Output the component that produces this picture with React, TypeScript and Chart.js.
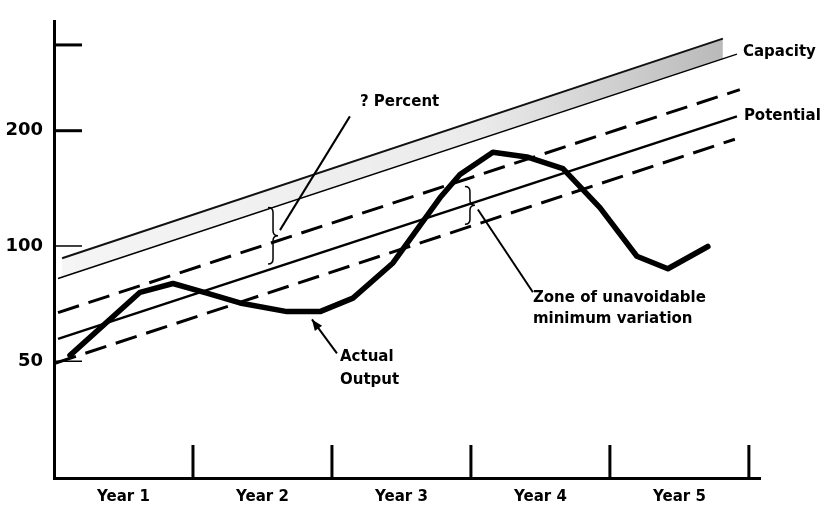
import React, { useEffect, useRef } from 'react';
import { Chart, registerables } from 'chart.js';

Chart.register(...registerables);

// ---- axis data ----
const yearLabels = ['Year 1', 'Year 2', 'Year 3', 'Year 4', 'Year 5'];
const yearLabelPositions = [0.5, 1.5, 2.5, 3.5, 4.5];
const yearTickPositions = [1, 2, 3, 4, 5];
const yTickValues = [50, 100, 200, 335];
const yTickLabels = ['50', '100', '200', ''];

// ---- series data (x in years, y in output units, log scale) ----
const capacityTopYears = [0.058, 4.813];
const capacityTopValues = [92.9, 348];
const capacityBottomYears = [0.058, 4.813];
const capacityBottomValues = [82.7, 308];
const capacityLineYears = [0.029, 4.914];
const capacityLineValues = [82.2, 317];
const zoneUpperYears = [0.029, 4.935];
const zoneUpperValues = [67.0, 256];
const potentialYears = [0.029, 4.914];
const potentialValues = [57.2, 218];
const zoneLowerYears = [0.007, 4.899];
const zoneLowerValues = [49.4, 190];
const actualYears = [0.115, 0.619, 0.856, 1.1, 1.338, 1.676, 1.914, 2.151, 2.439, 2.777, 2.921, 3.158, 3.403, 3.662, 3.928, 4.194, 4.417, 4.705];
const actualValues = [51.8, 75.7, 79.8, 75.3, 71.0, 67.4, 67.4, 73.1, 90.3, 133.6, 153.7, 175.8, 170.8, 159.2, 126, 94.0, 87.2, 99.7];

const pts = (xs: number[], ys: number[]) => xs.map((x, i) => ({ x, y: ys[i] }));

const FONT = "'DejaVu Sans', 'Noto Sans', sans-serif";

const annotationPlugin = {
  id: 'schematicAnnotations',
  afterDatasetsDraw(chart: any) {
    const { ctx, scales } = chart;
    const xs = scales.x;
    const ys = scales.y;
    const X = (v: number) => xs.getPixelForValue(v);
    const Y = (v: number) => ys.getPixelForValue(v);
    const left = chart.chartArea.left;
    const bottom = chart.chartArea.bottom;
    ctx.save();
    ctx.strokeStyle = '#000';
    ctx.fillStyle = '#000';
    ctx.lineCap = 'butt';

    // inward y ticks
    yTickValues.forEach((v) => {
      ctx.lineWidth = v >= 200 ? 3 : 1.5;
      ctx.beginPath();
      ctx.moveTo(left, Y(v));
      ctx.lineTo(left + 28, Y(v));
      ctx.stroke();
    });
    // inward x ticks
    ctx.lineWidth = 3;
    yearTickPositions.forEach((v) => {
      ctx.beginPath();
      ctx.moveTo(X(v), bottom);
      ctx.lineTo(X(v), bottom - 33);
      ctx.stroke();
    });

    const line = (x1: number, y1: number, x2: number, y2: number, w: number) => {
      ctx.lineWidth = w;
      ctx.beginPath();
      ctx.moveTo(X(x1), Y(y1));
      ctx.lineTo(X(x2), Y(y2));
      ctx.stroke();
    };
    const brace = (xv: number, topV: number, botV: number) => {
      const x = X(xv);
      const t = Y(topV);
      const b = Y(botV);
      const m = (t + b) / 2;
      const w = 5;
      ctx.lineWidth = 1.5;
      ctx.beginPath();
      ctx.moveTo(x - w, t);
      ctx.quadraticCurveTo(x, t, x, t + w);
      ctx.lineTo(x, m - w);
      ctx.quadraticCurveTo(x, m, x + w, m);
      ctx.quadraticCurveTo(x, m, x, m + w);
      ctx.lineTo(x, b - w);
      ctx.quadraticCurveTo(x, b, x - w, b);
      ctx.stroke();
    };

    // braces
    brace(1.576, 126, 89.7);
    brace(2.993, 143, 114);

    // pointer lines
    line(2.129, 218, 1.626, 110, 2);
    line(3.05, 124.5, 3.446, 75.7, 2);

    // arrow for actual output
    const hx = X(1.856), hy = Y(64.3);
    const tx = X(2.036), ty = Y(52.4);
    ctx.lineWidth = 2;
    ctx.beginPath();
    ctx.moveTo(tx, ty);
    ctx.lineTo(hx, hy);
    ctx.stroke();
    const ang = Math.atan2(hy - ty, hx - tx);
    const L = 11, W = 4.5;
    ctx.beginPath();
    ctx.moveTo(hx, hy);
    ctx.lineTo(hx - L * Math.cos(ang) + W * Math.sin(ang), hy - L * Math.sin(ang) - W * Math.cos(ang));
    ctx.lineTo(hx - L * Math.cos(ang) - W * Math.sin(ang), hy - L * Math.sin(ang) + W * Math.cos(ang));
    ctx.closePath();
    ctx.fill();

    // texts
    ctx.font = `bold 15px ${FONT}`;
    ctx.textBaseline = 'middle';
    ctx.textAlign = 'left';
    ctx.fillText('Capacity', X(4.957), Y(321));
    ctx.fillText('Potential', X(4.964), Y(218));
    ctx.fillText('? Percent', X(2.201), Y(237));
    ctx.fillText('Zone of unavoidable', X(3.446), Y(73.1));
    ctx.fillText('minimum variation', X(3.446), Y(64.3));
    ctx.fillText('Actual', X(2.058), Y(51.2));
    ctx.fillText('Output', X(2.058), Y(44.7));
    ctx.restore();
  },
};

export default function App() {
  const ref = useRef<HTMLCanvasElement | null>(null);
  useEffect(() => {
    if (!ref.current) return;
    const bandFill = (c: any) => {
      const ch = c.chart;
      const area = ch.chartArea;
      if (!area) return 'rgba(0,0,0,0.1)';
      const g = ch.ctx.createLinearGradient(area.left, 0, area.right, 0);
      g.addColorStop(0, 'rgba(0,0,0,0.04)');
      g.addColorStop(0.6, 'rgba(0,0,0,0.08)');
      g.addColorStop(1, 'rgba(0,0,0,0.3)');
      return g;
    };
    const chart = new Chart(ref.current, {
      type: 'line',
      data: {
        datasets: [
          { label: 'Capacity band', data: pts(capacityTopYears, capacityTopValues), borderColor: '#111', borderWidth: 2, pointRadius: 0, fill: { target: 1 }, backgroundColor: bandFill },
          { label: 'Capacity band bottom', data: pts(capacityBottomYears, capacityBottomValues), borderWidth: 0, borderColor: 'rgba(0,0,0,0)', pointRadius: 0, fill: false },
          { label: 'Capacity', data: pts(capacityLineYears, capacityLineValues), borderColor: '#000', borderWidth: 1.5, pointRadius: 0, fill: false },
          { label: 'Zone upper', data: pts(zoneUpperYears, zoneUpperValues), borderColor: '#000', borderWidth: 3, borderDash: [22, 10], pointRadius: 0, fill: false },
          { label: 'Potential', data: pts(potentialYears, potentialValues), borderColor: '#000', borderWidth: 2.5, pointRadius: 0, fill: false },
          { label: 'Zone lower', data: pts(zoneLowerYears, zoneLowerValues), borderColor: '#000', borderWidth: 3, borderDash: [22, 10], pointRadius: 0, fill: false },
          { label: 'Actual Output', data: pts(actualYears, actualValues), borderColor: '#000', borderWidth: 5.5, pointRadius: 0, fill: false, tension: 0, borderJoinStyle: 'round', borderCapStyle: 'round' },
        ],
      },
      options: {
        animation: false,
        responsive: false,
        events: [],
        layout: { padding: { top: 9, right: 63, left: 0, bottom: 0 } },
        plugins: { legend: { display: false }, tooltip: { enabled: false } },
        scales: {
          x: {
            type: 'linear',
            min: 0,
            max: 5.08,
            bounds: 'data',
            grid: { display: false, drawTicks: false },
            border: { display: true, color: '#000', width: 3 },
            afterBuildTicks: (s: any) => { s.ticks = yearLabelPositions.map((v) => ({ value: v })); },
            afterFit: (s: any) => { s.height = 30; },
            ticks: {
              padding: 10,
              color: '#000',
              font: { family: FONT, size: 15, weight: 'bold' },
              maxRotation: 0,
              autoSkip: false,
              callback: (v: any) => { const i = yearLabelPositions.indexOf(Number(v)); return i >= 0 ? yearLabels[i] : ''; },
            },
          },
          y: {
            type: 'logarithmic',
            min: 24.78,
            max: 385,
            bounds: 'data',
            grid: { display: false, drawTicks: false },
            border: { display: true, color: '#000', width: 3 },
            afterBuildTicks: (s: any) => { s.ticks = yTickValues.map((v) => ({ value: v })); },
            afterFit: (s: any) => { s.width = 54; },
            ticks: {
              padding: 11,
              color: '#000',
              font: { family: FONT, size: 18, weight: 'bold' },
              autoSkip: false,
              callback: (v: any) => { const i = yTickValues.indexOf(Number(v)); return i >= 0 ? yTickLabels[i] : ''; },
            },
          },
        },
      },
      plugins: [annotationPlugin],
    } as any);
    return () => chart.destroy();
  }, []);
  return (
    <div style={{ position: 'absolute', left: 0, top: 0, width: 823, height: 508, background: '#fff' }}>
      <canvas ref={ref} width={823} height={508} />
    </div>
  );
}
